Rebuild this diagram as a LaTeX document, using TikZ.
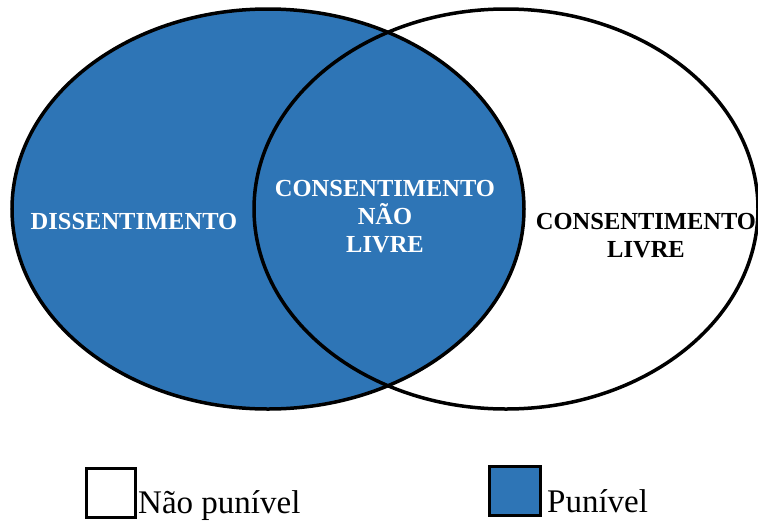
\documentclass[tikz,border=0pt]{standalone}
\usepackage{fontspec}
\setmainfont{Liberation Serif}
\usetikzlibrary{shapes.geometric,positioning}
\definecolor{punblue}{RGB}{46,117,182}

\begin{document}
\begin{tikzpicture}[x=1pt,y=-1pt,
    conjunto/.style={ellipse,draw=black,line width=3.5pt,inner sep=0pt,minimum height=400pt},
    rotulo/.style={font=\fontsize{24.5}{28}\selectfont\bfseries,align=center,inner sep=0pt},
    legenda/.style={draw=black,line width=3pt,minimum width=49pt,minimum height=49pt,inner sep=0pt},
    textoleg/.style={font=\fontsize{33}{36}\selectfont,inner sep=0pt,anchor=base west}]
  \useasboundingbox (0,0) rectangle (758,520);
  % os dois conjuntos
  \node[conjunto,minimum width=512pt,fill=punblue] (dis) at (268,209) {};
  \node[conjunto,minimum width=504pt] (con) at (506,209) {};
  \node[rotulo,text=white,anchor=base] (dissent) at (134,229) {DISSENTIMENTO};
  \node[rotulo,text=white] (naolivre) at (385,217) {CONSENTIMENTO\\NÃO\\LIVRE};
  \node[rotulo] (livre) at (646,236) {CONSENTIMENTO\\LIVRE};
  % legenda
  \node[legenda] (nopun) at (110.5,493) {};
  \node[legenda,minimum width=51pt,fill=punblue] (pun) at (514.5,490.5) {};
  \node[textoleg] (nopuntxt) at ([xshift=1.5pt,yshift=6pt]nopun.south east) {Não punível};
  \node[textoleg] (puntxt) at ([xshift=5.5pt,yshift=4pt]pun.south east) {Punível};
\end{tikzpicture}
\end{document}
